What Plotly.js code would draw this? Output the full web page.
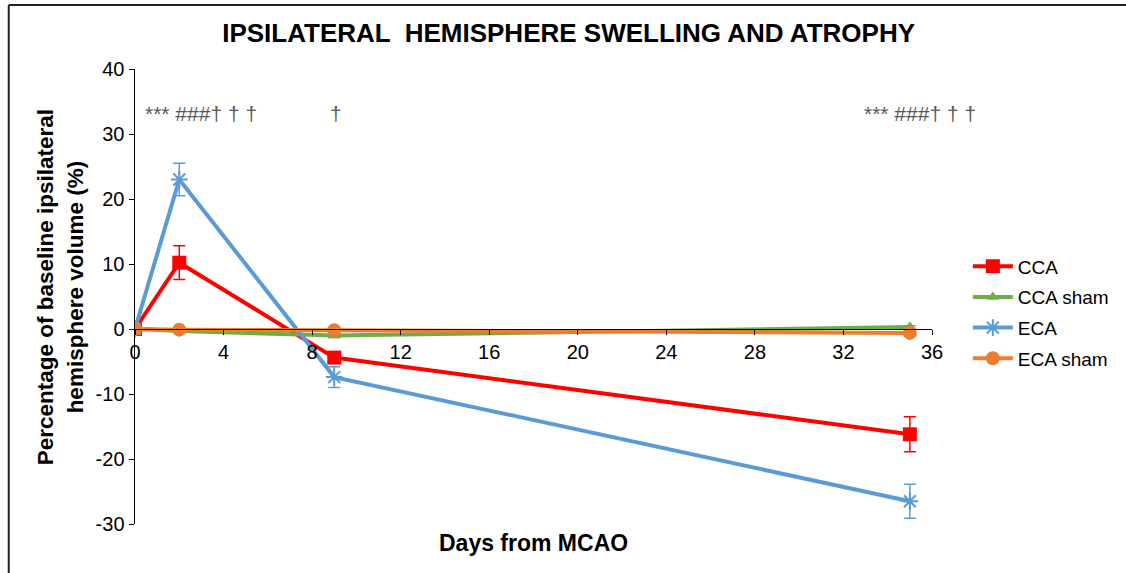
<!DOCTYPE html>
<html>
<head>
<meta charset="utf-8">
<script src="https://cdn.plot.ly/plotly-3.0.1.min.js"></script>
<style>html,body{margin:0;padding:0;background:#fff;}#chart{width:1126px;height:573px;}</style>
</head>
<body>
<div id="chart"></div>
<script>
// ---- data ----
const days = [0, 2, 9, 35];
const ccaValues = [0, 10.2, -4.4, -16.2];
const ccaErrors = [0, 2.6, 0.5, 2.7];
const ccaShamValues = [0, -0.3, -1.0, 0.3];
const ccaShamErrors = [0, 0.2, 0.3, 0.2];
const ecaValues = [0, 23.0, -7.4, -26.5];
const ecaErrors = [0, 2.5, 1.6, 2.6];
const ecaShamValues = [0, -0.1, -0.2, -0.6];
const ecaShamErrors = [0, 0.2, 0.2, 0.2];
const seriesNames = ["CCA", "CCA sham", "ECA", "ECA sham"];
const xTicks = [0, 4, 8, 12, 16, 20, 24, 28, 32, 36];
const yTicks = [-30, -20, -10, 0, 10, 20, 30, 40];
const sigLabels = ["*** ###† † †", "†", "*** ###† † †"];
const sigDays = [2.96, 9.1, 35.46];
const sigLevel = 33.2;

const FONT = "Liberation Sans, Arial, sans-serif";

function trace(name, y, err, color, symbol, size, extraMarker) {
  return {
    x: days, y: y, name: name, type: "scatter", mode: "lines+markers",
    line: {color: color, width: 4},
    marker: Object.assign({color: color, symbol: symbol, size: size, line: {color: color, width: 0}}, extraMarker || {}),
    error_y: {type: "data", array: err, visible: true, color: color, thickness: 1.5, width: 6},
    legendgroup: name
  };
}

const data = [
  trace(seriesNames[0], ccaValues, ccaErrors, "#FF0000", "square", 14),
  trace(seriesNames[1], ccaShamValues, ccaShamErrors, "#70AD47", "triangle-up", 11),
  trace(seriesNames[2], ecaValues, ecaErrors, "#5B9BD5", "asterisk-open", 14, {line: {color: "#5B9BD5", width: 2}}),
  trace(seriesNames[3], ecaShamValues, ecaShamErrors, "#ED7D31", "circle", 14)
];

const annotations = sigLabels.map((t, i) => ({
  x: sigDays[i], y: sigLevel, xref: "x", yref: "y", text: t, showarrow: false,
  font: {family: FONT, size: 21, color: "#595959"}, xanchor: "center", yanchor: "middle"
}));
annotations.push({
  x: 0.5, y: -0.042, xref: "paper", yref: "paper", text: "<b>Days from MCAO</b>", showarrow: false,
  font: {family: FONT, size: 23, color: "#000"}, xanchor: "center", yanchor: "middle"
});
annotations.push({
  x: -0.093, y: 0.52, xref: "paper", yref: "paper",
  text: "<b>Percentage of baseline ipsilateral<br>hemisphere volume (%)</b>", showarrow: false,
  textangle: -90, font: {family: FONT, size: 22.5, color: "#000"}, xanchor: "center", yanchor: "middle"
});

const layout = {
  width: 1126, height: 573,
  paper_bgcolor: "#fff", plot_bgcolor: "#fff",
  margin: {l: 135, r: 189, t: 69, b: 49},
  title: {text: "<b>IPSILATERAL  HEMISPHERE SWELLING AND ATROPHY</b>", x: 0.505, xref: "container", xanchor: "center",
          y: 0.942, yref: "container", yanchor: "middle",
          font: {family: FONT, size: 26, color: "#000"}},
  xaxis: {
    range: [0, 36], tickvals: xTicks, ticktext: xTicks.map(String),
    anchor: "free", position: 30 / 70,
    showline: true, linecolor: "#000", linewidth: 1,
    ticks: "outside", ticklen: 5, tickcolor: "#000",
    showgrid: false, zeroline: false,
    tickfont: {family: FONT, size: 20, color: "#000"}
  },
  yaxis: {
    range: [-30, 40], tickvals: yTicks, ticktext: yTicks.map(String),
    showline: true, linecolor: "#000", linewidth: 1.5,
    ticks: "outside", ticklen: 5, tickcolor: "#000",
    showgrid: false, zeroline: false,
    tickfont: {family: FONT, size: 20, color: "#000"}
  },
  showlegend: true,
  legend: {
    x: 1.045, y: 0.608, xanchor: "left", yanchor: "top",
    font: {family: FONT, size: 19, color: "#000"},
    itemwidth: 40, traceorder: "grouped", tracegroupgap: 3,
    bgcolor: "rgba(0,0,0,0)"
  },
  annotations: annotations,
  shapes: [
    {type: "line", xref: "paper", yref: "paper", x0: -0.1584, x1: 1.3, y0: 1.1407, y1: 1.1407, line: {color: "#222", width: 2}},
    {type: "line", xref: "paper", yref: "paper", x0: -0.1584, x1: -0.1584, y0: 1.1407, y1: -0.2, line: {color: "#222", width: 2}}
  ]
};

Plotly.newPlot("chart", data, layout, {displayModeBar: false, staticPlot: true});
</script>
</body>
</html>
